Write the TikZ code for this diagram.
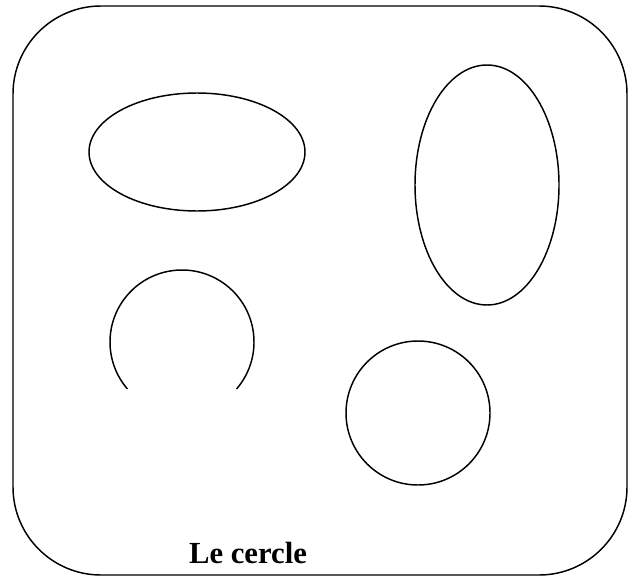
\documentclass[tikz,border=0pt]{standalone}
\usepackage{fontspec}
\setmainfont{Liberation Serif}
\usetikzlibrary{calc}
\tikzset{
  ln/.style={draw,line width=1.1pt},
  lbl/.style={font=\bfseries\fontsize{23}{27}\selectfont,anchor=base},
}

\begin{document}
\begin{tikzpicture}[x=0.75pt,y=0.75pt]
  \useasboundingbox (0,0) rectangle (634,576);
  \draw[ln,rounded corners=66pt] (13,1) rectangle (627,570);
  \draw[ln] (197,424) ellipse [x radius=108,y radius=59];
  \draw[ln] (487,391) ellipse [x radius=72,y radius=120];
  \draw[ln] ($(182,234)+(-40.7:72)$) arc[start angle=-40.7,end angle=220.7,radius=72];
  \draw[ln] (418,163) circle [radius=72];
  \node[lbl] (titre) at (248,13) {Le cercle};
\end{tikzpicture}
\end{document}
